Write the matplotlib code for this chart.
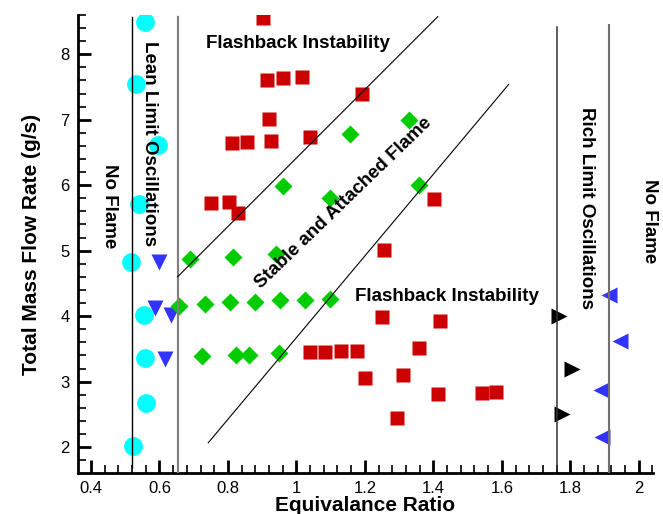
import matplotlib.pyplot as plt

plt.rcParams['font.family'] = ['Liberation Sans', 'DejaVu Sans']

# lean limit oscillations (cyan circles)
lean_phi = [0.558, 0.531, 0.597, 0.541, 0.516, 0.556, 0.558, 0.561, 0.524]
lean_mdot = [8.50, 7.545, 6.61, 5.71, 4.83, 4.02, 3.365, 2.68, 2.015]

# lean blow-off (blue down triangles)
blow_phi = [0.598, 0.588, 0.633, 0.616]
blow_mdot = [4.82, 4.13, 4.02, 3.35]

# stable flame (green diamonds)
stable_phi = [0.689, 0.815, 0.939,
              0.658, 0.733, 0.806, 0.879, 0.952, 1.025, 1.098,
              0.724, 0.823, 0.861, 0.950,
              0.961, 1.156, 1.329, 1.098, 1.359]
stable_mdot = [4.87, 4.90, 4.95,
               4.16, 4.19, 4.21, 4.22, 4.24, 4.25, 4.26,
               3.385, 3.40, 3.40, 3.43,
               5.99, 6.775, 6.99, 5.80, 6.00]

# flashback (red squares)
flash_phi = [0.901, 0.913, 0.960, 1.015, 1.191, 0.920, 0.812, 0.855, 0.926, 1.041,
             0.750, 0.803, 0.828, 1.401, 1.255, 1.250, 1.419, 1.039, 1.085, 1.130,
             1.176, 1.358, 1.200, 1.310, 1.413, 1.542, 1.583, 1.293]
flash_mdot = [8.56, 7.60, 7.64, 7.65, 7.39, 7.01, 6.65, 6.66, 6.68, 6.74,
              5.73, 5.75, 5.58, 5.79, 5.01, 3.99, 3.92, 3.45, 3.45, 3.47,
              3.47, 3.51, 3.055, 3.10, 2.81, 2.83, 2.84, 2.44]

# rich limit oscillations (black right triangles)
rich_phi = [1.766, 1.806, 1.776]
rich_mdot = [3.995, 3.19, 2.50]

# rich blow-off (blue left triangles)
rich_off_phi = [1.913, 1.944, 1.891, 1.894]
rich_off_mdot = [4.32, 3.62, 2.87, 2.16]

# region boundaries
vlines_phi = [0.519, 0.653, 1.762, 1.912]
vlines_bottom = [1.69, 1.604, 1.69, 1.604]
vlines_top = [8.575, 8.575, 8.41, 8.45]
vlines_color = ['black', '#808080', '#333333', '#707070']
vlines_lw = [1.0, 1.6, 1.1, 1.5]
diag_upper = ([0.653, 1.413], [4.60, 8.575])
diag_lower = ([0.7425, 1.62], [2.065, 7.54])

fig = plt.figure(figsize=(6.63, 5.14), dpi=100)
ax = fig.add_axes([0.1176, 0.0798, 0.867, 0.891])

ax.plot(lean_phi, lean_mdot, 'o', color='#00FFFF', ms=13.5, mec='none', zorder=2)
ax.plot(blow_phi, blow_mdot, 'v', color='#3333FF', ms=11, mec='none', zorder=2)
ax.plot(stable_phi, stable_mdot, 'D', color='#00CC00', ms=9, mec='none', zorder=2)
ax.plot(flash_phi, flash_mdot, 's', color='#CC0000', ms=10, mec='none', zorder=2)
ax.plot(rich_phi, rich_mdot, '>', color='black', ms=11, mec='none', zorder=2)
ax.plot(rich_off_phi, rich_off_mdot, '<', color='#3333FF', ms=11, mec='none', zorder=2)

for x, y0, y1, c, lw in zip(vlines_phi, vlines_bottom, vlines_top, vlines_color, vlines_lw):
    ax.plot([x, x], [y0, y1], color=c, lw=lw, zorder=3)
ax.plot(*diag_upper, color='black', lw=0.8, zorder=3)
ax.plot(*diag_lower, color='black', lw=0.8, zorder=3)

tkw = dict(fontsize=13.5, fontweight='bold', ha='center', va='center', zorder=4)
ax.text(0.455, 5.68, 'No Flame', rotation=-90, **tkw)
ax.text(0.572, 6.63, 'Lean Limit Oscillations', rotation=-90, **tkw)
ax.text(1.004, 8.16, 'Flashback Instability', **tkw)
ax.text(1.139, 5.73, 'Stable and Attached Flame', rotation=44, rotation_mode='anchor', **tkw)
ax.text(1.44, 4.30, 'Flashback Instability', **tkw)
ax.text(1.848, 5.65, 'Rich Limit Oscillations', rotation=-90, **tkw)
ax.text(2.032, 5.45, 'No Flame', rotation=-90, **tkw)

ax.set_xlim(0.362, 2.041)
ax.set_ylim(1.604, 8.575)
ax.set_xticks([0.4, 0.6, 0.8, 1.0, 1.2, 1.4, 1.6, 1.8, 2.0])
ax.set_xticklabels(['0.4', '0.6', '0.8', '1', '1.2', '1.4', '1.6', '1.8', '2'])
ax.set_yticks([2, 3, 4, 5, 6, 7, 8])
ax.set_xticks([0.4 + 0.04 * i for i in range(42)], minor=True)
ax.set_yticks([1.8 + 0.2 * i for i in range(35)], minor=True)
ax.tick_params(which='major', direction='in', length=9.5, width=2, labelsize=12, pad=6)
ax.tick_params(which='minor', direction='in', length=5.5, width=1.2)

for s in ['top', 'right']:
    ax.spines[s].set_visible(False)
for s in ['left', 'bottom']:
    ax.spines[s].set_linewidth(2)

ax.set_xlabel('Equivalance Ratio', fontsize=15, fontweight='bold', labelpad=0)
ax.set_ylabel('Total Mass Flow Rate (g/s)', fontsize=15, fontweight='bold', labelpad=14)

fig.savefig('out.png', dpi=100)
